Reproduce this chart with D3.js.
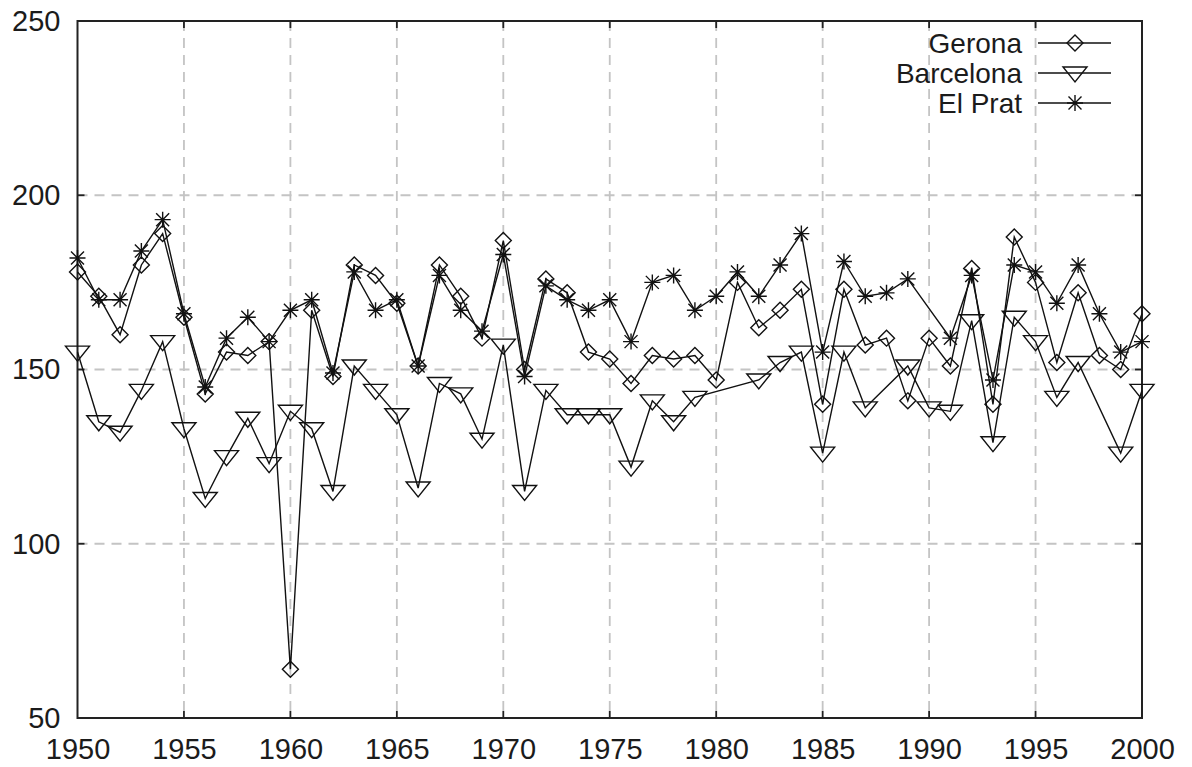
<!DOCTYPE html>
<html>
<head>
<meta charset="utf-8">
<script src="https://cdn.jsdelivr.net/npm/d3@7"></script>
<style>
  body { margin: 0; background: #fff; }
  text { font-family: "Liberation Sans", Arial, sans-serif; fill: #1b1b1b; }
</style>
</head>
<body>
<div id="chart"></div>
<script>
const width = 1192;
const height = 767;

// data (null = no value that year)
const years = [1950,1951,1952,1953,1954,1955,1956,1957,1958,1959,
               1960,1961,1962,1963,1964,1965,1966,1967,1968,1969,
               1970,1971,1972,1973,1974,1975,1976,1977,1978,1979,
               1980,1981,1982,1983,1984,1985,1986,1987,1988,1989,
               1990,1991,1992,1993,1994,1995,1996,1997,1998,1999,2000];
const gerona = [178,171,160,180,189,165,143,155,154,158,
                64,167,148,180,177,169,151,180,171,159,
                187,150,176,172,155,153,146,154,153,154,
                147,175,162,167,173,140,173,157,159,141,
                159,151,179,140,188,175,152,172,154,150,166];
const barcelona = [155,135,132,144,158,133,113,125,136,123,
                   138,133,115,151,144,137,116,146,143,130,
                   157,115,144,137,137,137,122,141,135,142,
                   null,null,147,152,155,126,155,139,null,151,
                   139,138,164,129,165,158,142,152,null,126,144];
const elPrat = [182,170,170,184,193,166,145,159,165,158,
                167,170,149,178,167,170,151,177,167,161,
                183,148,174,170,167,170,158,175,177,167,
                171,178,171,180,189,155,181,171,172,176,
                null,159,177,147,180,178,169,180,166,155,158];
const seriesNames = ["Gerona", "Barcelona", "El Prat"];
const xTicks = [1950,1955,1960,1965,1970,1975,1980,1985,1990,1995,2000];
const yTicks = [50,100,150,200,250];

const plotLeft = 77.5, plotRight = 1142, plotTop = 21, plotBottom = 718;

const x = d3.scaleLinear().domain([1950, 2000]).range([plotLeft, plotRight]);
const y = d3.scaleLinear().domain([50, 250]).range([plotBottom, plotTop]);

const svg = d3.select("#chart").append("svg")
  .attr("width", width)
  .attr("height", height);

// grid
const grid = svg.append("g")
  .attr("stroke", "#c4c4c4")
  .attr("stroke-width", 1.8)
  .attr("stroke-dasharray", "10,7");
grid.selectAll("line.vx")
  .data(xTicks.slice(1, -1))
  .enter().append("line")
    .attr("x1", d => x(d)).attr("x2", d => x(d))
    .attr("y1", plotTop).attr("y2", plotBottom);
grid.selectAll("line.hy")
  .data(yTicks.slice(1, -1))
  .enter().append("line")
    .attr("x1", plotLeft).attr("x2", plotRight)
    .attr("y1", d => y(d)).attr("y2", d => y(d));

// axes: labels via d3 axes, inner tick marks drawn separately
const xAxis = svg.append("g")
  .attr("transform", `translate(0,${plotBottom})`)
  .call(d3.axisBottom(x).tickValues(xTicks).tickFormat(d3.format("d")).tickSize(0).tickPadding(20));
xAxis.select(".domain").remove();
xAxis.selectAll("text")
  .style("font-size", "29px")
  .attr("fill", "#1b1b1b");

const yAxis = svg.append("g")
  .attr("transform", `translate(${plotLeft},0)`)
  .call(d3.axisLeft(y).tickValues(yTicks).tickSize(0).tickPadding(17));
yAxis.select(".domain").remove();
yAxis.selectAll("text")
  .style("font-size", "29px")
  .attr("fill", "#1b1b1b");

const ticks = svg.append("g").attr("stroke", "#222").attr("stroke-width", 1.8);
xTicks.slice(1, -1).forEach(t => {
  ticks.append("line").attr("x1", x(t)).attr("x2", x(t)).attr("y1", plotBottom).attr("y2", plotBottom - 7);
  ticks.append("line").attr("x1", x(t)).attr("x2", x(t)).attr("y1", plotTop).attr("y2", plotTop + 7);
});
yTicks.slice(1, -1).forEach(t => {
  ticks.append("line").attr("x1", plotLeft).attr("x2", plotLeft + 7).attr("y1", y(t)).attr("y2", y(t));
  ticks.append("line").attr("x1", plotRight).attr("x2", plotRight - 7).attr("y1", y(t)).attr("y2", y(t));
});

// frame
svg.append("rect")
  .attr("x", plotLeft).attr("y", plotTop)
  .attr("width", plotRight - plotLeft).attr("height", plotBottom - plotTop)
  .attr("fill", "none")
  .attr("stroke", "#222")
  .attr("stroke-width", 2);

// marker shapes
function diamond(g, cx, cy) {
  const r = 8;
  g.append("path")
    .attr("d", `M${cx},${cy - r}L${cx + r},${cy}L${cx},${cy + r}L${cx - r},${cy}Z`)
    .attr("fill", "none").attr("stroke", "#111").attr("stroke-width", 1.4);
}
function triangle(g, cx, cy) {
  g.append("path")
    .attr("d", `M${cx - 12},${cy - 6}L${cx + 12},${cy - 6}L${cx},${cy + 9}Z`)
    .attr("fill", "none").attr("stroke", "#111").attr("stroke-width", 1.4);
}
function star(g, cx, cy) {
  const r = 8, d = 6.5;
  g.append("path")
    .attr("d", `M${cx - r},${cy}L${cx + r},${cy}M${cx},${cy - r}L${cx},${cy + r}` +
               `M${cx - d},${cy - d}L${cx + d},${cy + d}M${cx - d},${cy + d}L${cx + d},${cy - d}`)
    .attr("fill", "none").attr("stroke", "#111").attr("stroke-width", 1.4);
}

const series = [
  { name: seriesNames[0], values: gerona, marker: diamond },
  { name: seriesNames[1], values: barcelona, marker: triangle },
  { name: seriesNames[2], values: elPrat, marker: star }
];

const line = d3.line()
  .x(d => x(d.year))
  .y(d => y(d.value));

series.forEach(s => {
  const pts = years.map((yr, i) => ({ year: yr, value: s.values[i] }))
    .filter(d => d.value != null);
  const g = svg.append("g");
  g.append("path")
    .datum(pts)
    .attr("d", line)
    .attr("fill", "none")
    .attr("stroke", "#111")
    .attr("stroke-width", 1.4);
  pts.forEach(d => s.marker(g, x(d.year), y(d.value)));
});

// legend
const legend = svg.append("g");
series.forEach((s, i) => {
  const ly = 43 + i * 30;
  legend.append("text")
    .attr("x", 1022).attr("y", ly)
    .attr("dy", "0.35em")
    .attr("text-anchor", "end")
    .style("font-size", "28px")
    .text(s.name);
  legend.append("line")
    .attr("x1", 1038).attr("x2", 1111)
    .attr("y1", ly).attr("y2", ly)
    .attr("stroke", "#111").attr("stroke-width", 1.4);
  s.marker(legend, 1075, ly);
});
</script>
</body>
</html>
